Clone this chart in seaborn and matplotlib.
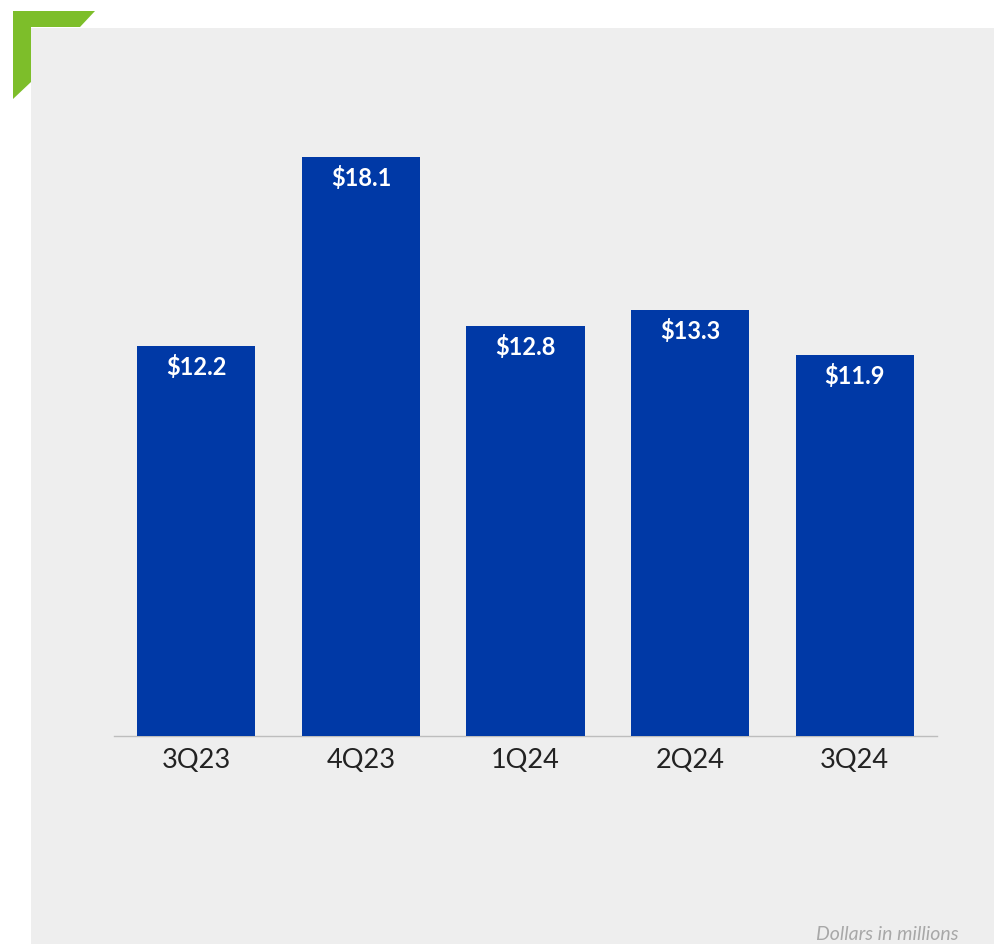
import matplotlib
matplotlib.use("Agg")
import matplotlib.pyplot as plt
from matplotlib.patches import Rectangle, Polygon
import seaborn as sns
import pandas as pd

quarters = ["3Q23", "4Q23", "1Q24", "2Q24", "3Q24"]
values = [12.2, 18.1, 12.8, 13.3, 11.9]
value_labels = ["$12.2", "$18.1", "$12.8", "$13.3", "$11.9"]
note = "Dollars in millions"

BAR_COLOR = "#0039A6"
PANEL = "#EEEEEE"
GREEN = "#7DBE2A"

sns.set_theme(style="white")
plt.rcParams["font.family"] = ["Lato", "DejaVu Sans"]

W, H = 994, 944
fig = plt.figure(figsize=(W / 100, H / 100), dpi=100)
fig.patch.set_facecolor("white")

# grey panel behind the chart
fig.patches.append(Rectangle((31 / W, 0), 1 - 31 / W, (H - 28) / H,
                             transform=fig.transFigure, facecolor=PANEL,
                             edgecolor="none", zorder=-2))
# green corner bracket
pts = [(13, 11), (95, 11), (80, 27), (31, 27), (31, 82), (13, 99)]
fig.patches.append(Polygon([(x / W, 1 - y / H) for x, y in pts], closed=True,
                           transform=fig.transFigure, facecolor=GREEN,
                           edgecolor="none", zorder=-1))

ax = fig.add_axes([114 / W, (H - 736) / H, 823 / W, 640 / H])
ax.set_facecolor("none")

df = pd.DataFrame({"quarter": quarters, "value": values})
sns.barplot(data=df, x="quarter", y="value", color=BAR_COLOR, saturation=1,
            width=0.717, linewidth=0, ax=ax)

ax.set_xlim(-0.5, 4.5)
ax.set_ylim(0, 20)
ax.set_xlabel("")
ax.set_ylabel("")
ax.set_yticks([])
for s in ["top", "right", "left"]:
    ax.spines[s].set_visible(False)
ax.spines["bottom"].set_color("#BDBDBD")
ax.spines["bottom"].set_linewidth(1.0)
ax.spines["bottom"].set_zorder(0.5)
ax.tick_params(axis="x", length=0, pad=9, labelsize=19.5, labelcolor="#222222")

for i, (v, lab) in enumerate(zip(values, value_labels)):
    ax.annotate(lab, (i, v), xytext=(0, -6.5), textcoords="offset points",
                ha="center", va="top", color="white", fontsize=17,
                fontweight="bold")

fig.text(959 / W, 4 / H, note, ha="right", va="baseline", fontsize=14,
         style="italic", color="#A8A8A8")

fig.savefig("out.png", dpi=100, facecolor="white")
